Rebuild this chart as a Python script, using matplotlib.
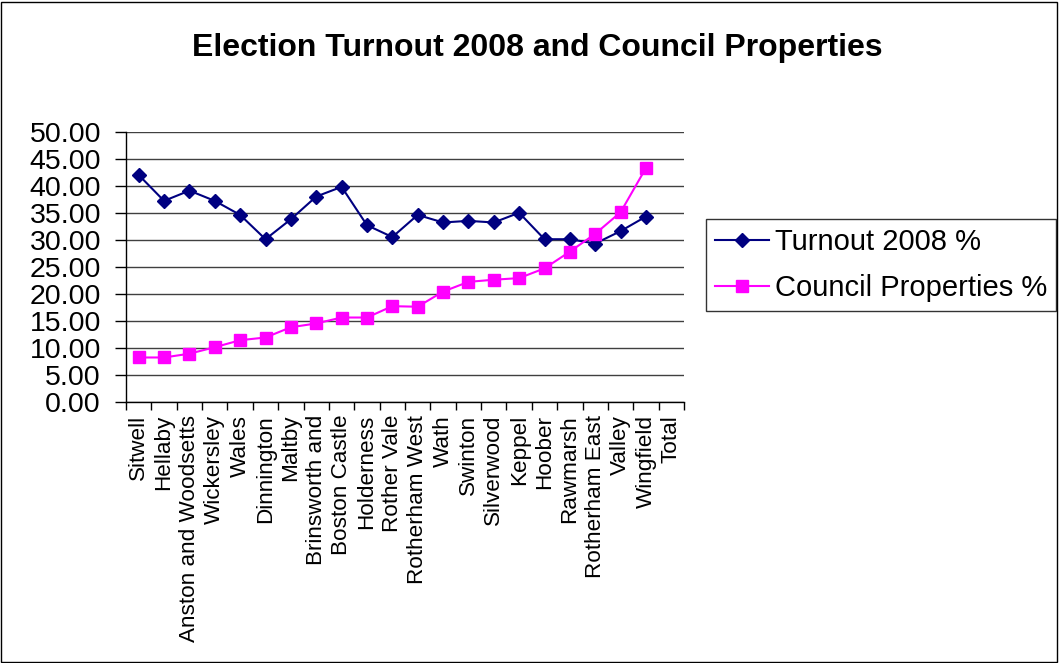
import matplotlib.pyplot as plt
from matplotlib.patches import Rectangle
import numpy as np

plt.rcParams['font.family'] = ['Liberation Sans', 'DejaVu Sans']

wards = ["Sitwell", "Hellaby", "Anston and Woodsetts", "Wickersley", "Wales",
         "Dinnington", "Maltby", "Brinsworth and", "Boston Castle", "Holderness",
         "Rother Vale", "Rotherham West", "Wath", "Swinton", "Silverwood",
         "Keppel", "Hoober", "Rawmarsh", "Rotherham East", "Valley",
         "Wingfield", "Total"]

turnout = [42.1, 37.3, 39.2, 37.3, 34.7, 30.2, 33.9, 38.1, 39.9, 32.8,
           30.6, 34.7, 33.3, 33.6, 33.3, 35.1, 30.2, 30.2, 29.4, 31.7,
           34.4, np.nan]
council = [8.3, 8.3, 9.0, 10.2, 11.5, 12.0, 13.9, 14.6, 15.7, 15.7,
           17.8, 17.7, 20.5, 22.3, 22.7, 23.0, 24.8, 27.9, 31.2, 35.2,
           43.4, np.nan]

W, H = 1059, 663
fig = plt.figure(figsize=(W / 100, H / 100), dpi=100)
ax = fig.add_axes([126 / W, 1 - 402.3 / H, (684 - 126) / W, 270 / H])

x = np.arange(len(wards))
ax.plot(x, turnout, color='#000080', lw=1.5, marker='D', ms=7,
        label='Turnout 2008 %')
ax.plot(x, council, color='#FF00FF', lw=1.5, marker='s', ms=8,
        label='Council Properties %')

ax.set_xlim(-0.5, len(wards) - 0.5)
ax.set_ylim(0, 50)
ax.set_yticks(np.arange(0, 51, 5))
ax.set_yticklabels([f"{v:.2f}" for v in np.arange(0, 51, 5)], fontsize=20.5)
ax.yaxis.grid(True, color='#404040', lw=1)
ax.set_axisbelow(True)

# tick marks sit between categories, labels at the category centres
ax.set_xticks(np.arange(-0.5, len(wards), 1.0))
ax.set_xticklabels([])
ax.set_xticks(x, minor=True)
ax.set_xticklabels(wards, minor=True, rotation=90, fontsize=16.2)
ax.tick_params(axis='x', which='minor', length=0, pad=9)
ax.tick_params(axis='x', which='major', length=6, color='black', width=1)
ax.tick_params(axis='y', length=8, width=1, pad=10)

for side in ['top', 'right']:
    ax.spines[side].set_visible(False)
for side in ['left', 'bottom']:
    ax.spines[side].set_color('black')
    ax.spines[side].set_linewidth(1)

fig.text(537 / W, 1 - 48 / H, "Election Turnout 2008 and Council Properties",
         ha='center', va='center', fontsize=23, fontweight='bold')

leg = fig.legend(loc='upper left', bbox_to_anchor=(706 / W, 1 - 219 / H),
                 borderaxespad=0, fontsize=21, handlelength=1.85,
                 handletextpad=0.2, borderpad=0.3, labelspacing=0.62,
                 fancybox=False, frameon=True)
leg.get_frame().set_edgecolor('black')
leg.get_frame().set_linewidth(1)

fig.patches.append(Rectangle((1 / W, 1 / H), (W - 3) / W, (H - 3) / H,
                             transform=fig.transFigure, fill=False,
                             edgecolor='black', lw=1))

fig.savefig('out.png', dpi=100)
